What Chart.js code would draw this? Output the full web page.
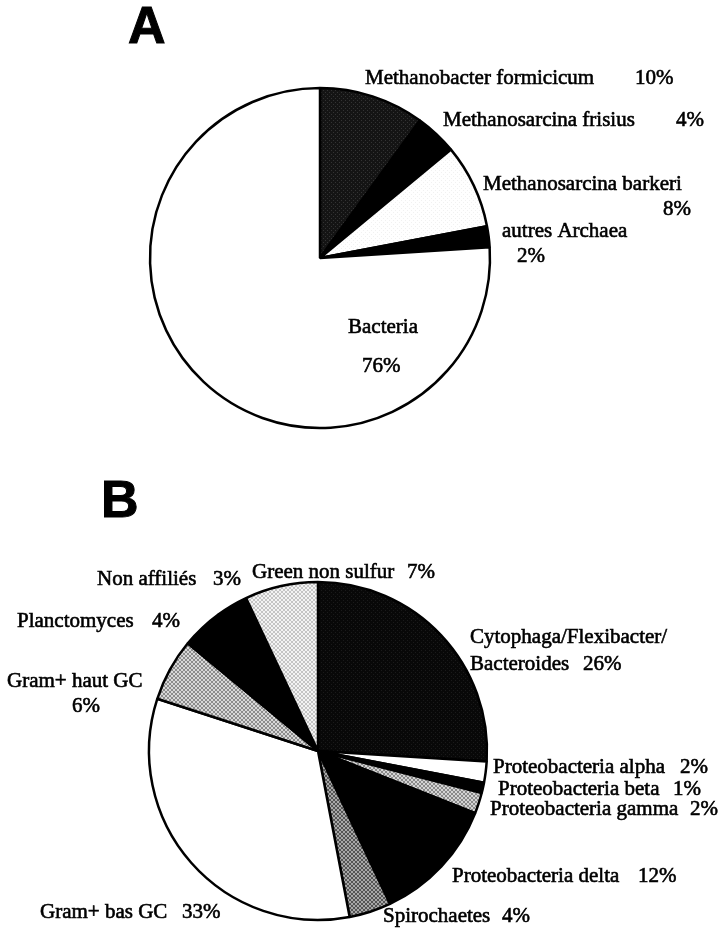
<!DOCTYPE html>
<html>
<head>
<meta charset="utf-8">
<script src="https://cdn.jsdelivr.net/npm/chart.js@4/dist/chart.umd.min.js"></script>
<style>
  html, body { margin:0; padding:0; background:#fff; }
  #wrap { position:relative; width:721px; height:933px; overflow:hidden; }
  canvas { position:absolute; left:0; }
  #pieA { top:0; }
  #pieB { top:466px; }
</style>
</head>
<body>
<div id="wrap">
  <canvas id="pieA" width="721" height="466"></canvas>
  <canvas id="pieB" width="721" height="467"></canvas>
</div>
<script>
// =========================
// DATA
// =========================

const categoriesA = [
    'Methanobacter formicicum',
    'Methanosarcina frisius',
    'Methanosarcina barkeri',
    'autres Archaea',
    'Bacteria'
];
const valuesA = [10, 4, 8, 2, 76];

const categoriesB = [
    'Cytophaga/Flexibacter/\nBacteroides',
    'Proteobacteria alpha',
    'Proteobacteria beta',
    'Proteobacteria gamma',
    'Proteobacteria delta',
    'Spirochaetes',
    'Gram+ bas GC',
    'Gram+ haut GC',
    'Planctomyces',
    'Non affiliés',
    'Green non sulfur'
];
const valuesB = [26, 2, 1, 2, 12, 4, 33, 6, 4, 3, 7];

// =========================
// PATTERNS (scanned print look)
// =========================

function makePattern(bg, fg, cells){
    const tile = document.createElement('canvas');
    tile.width = 4;
    tile.height = 4;
    const t = tile.getContext('2d');
    t.fillStyle = bg;
    t.fillRect(0, 0, 4, 4);
    t.fillStyle = fg;
    cells.forEach(c => t.fillRect(c[0], c[1], 1, 1));
    return t.createPattern(tile, 'repeat');
}

const cross = [[0,0],[1,1],[2,2],[3,3],[0,3],[1,2],[2,1],[3,0]];
const speck = [[1,0],[3,2]];

const ctxA = document.getElementById('pieA').getContext('2d');
const ctxB = document.getElementById('pieB').getContext('2d');

const fillA = [
    makePattern('#141414', '#333333', speck),
    '#000000',
    makePattern('#ffffff', '#f1f1f1', speck),
    '#000000',
    '#ffffff'
];

const fillB = [
    makePattern('#080808', '#1a1a1a', speck),
    '#ffffff',
    '#000000',
    makePattern('#d4d4d4', '#8a8a8a', cross),
    '#000000',
    makePattern('#a8a8a8', '#555555', cross),
    '#ffffff',
    makePattern('#d8d8d8', '#8c8c8c', cross),
    '#000000',
    '#000000',
    makePattern('#f3f3f3', '#c4c4c4', cross)
];

// =========================
// LABEL LAYOUT (canvas coordinates)
// =========================

// name: [x, baseline] per line, pct: [x, baseline]
const layoutA = [
    { name:[[365,84]],  pct:[635,84] },
    { name:[[443,126]], pct:[676,126] },
    { name:[[483,190]], pct:[663,215] },
    { name:[[502,237]], pct:[517,262] },
    { name:[[348,333]], pct:[362,372] }
];

const layoutB = [
    { name:[[470,177],[470,204]], pct:[583,204] },
    { name:[[493,307]], pct:[680,307] },
    { name:[[498,329]], pct:[673,329] },
    { name:[[490,349]], pct:[690,349] },
    { name:[[452,416]], pct:[638,416] },
    { name:[[383,456]], pct:[502,456] },
    { name:[[40,452]],  pct:[182,452] },
    { name:[[7,221]],   pct:[72,246] },
    { name:[[17,161]],  pct:[152,161] },
    { name:[[97,119]],  pct:[213,119] },
    { name:[[252,112]], pct:[407,112] }
];

// =========================
// LABEL PLUGIN
// =========================

function inkText(ctx, text, x, y){
    ctx.fillText(text, x, y);
    ctx.strokeText(text, x, y);
}

function labelPlugin(letter, letterPos, layout){
    return {
        id:'pieLabels',
        afterDraw(chart){
            const ctx = chart.ctx;
            const names = chart.data.labels;
            const vals = chart.data.datasets[0].data;
            ctx.save();
            ctx.fillStyle = '#000';
            ctx.strokeStyle = '#000';
            ctx.textBaseline = 'alphabetic';
            ctx.textAlign = 'left';

            ctx.lineWidth = 1;
            ctx.font = 'bold 52px "Liberation Sans", Arial, sans-serif';
            inkText(ctx, letter, letterPos[0], letterPos[1]);

            ctx.lineWidth = 0.6;
            ctx.font = '21px "Liberation Serif", "Times New Roman", serif';
            layout.forEach((item, i) => {
                const lines = names[i].split('\n');
                lines.forEach((line, j) => {
                    inkText(ctx, line, item.name[j][0], item.name[j][1]);
                });
                inkText(ctx, vals[i] + '%', item.pct[0], item.pct[1]);
            });
            ctx.restore();
        }
    };
}

// =========================
// CHARTS
// =========================

function pieOptions(radius, pad){
    return {
        responsive:false,
        animation:false,
        radius:radius,
        layout:{ padding:pad },
        plugins:{
            legend:{ display:false },
            tooltip:{ enabled:false }
        }
    };
}

new Chart(ctxA, {
    type:'pie',
    data:{
        labels:categoriesA,
        datasets:[{
            data:valuesA,
            backgroundColor:fillA,
            borderColor:'#000',
            borderWidth:2.5
        }]
    },
    options:pieOptions(170, { left:150, right:231, top:88, bottom:38 }),
    plugins:[labelPlugin('A', [128, 43], layoutA)]
});

new Chart(ctxB, {
    type:'pie',
    data:{
        labels:categoriesB,
        datasets:[{
            data:valuesB,
            backgroundColor:fillB,
            borderColor:'#000',
            borderWidth:2.5
        }]
    },
    options:pieOptions(169, { left:149, right:234, top:116, bottom:13 }),
    plugins:[labelPlugin('B', [101, 51], layoutB)]
});
</script>
</body>
</html>
